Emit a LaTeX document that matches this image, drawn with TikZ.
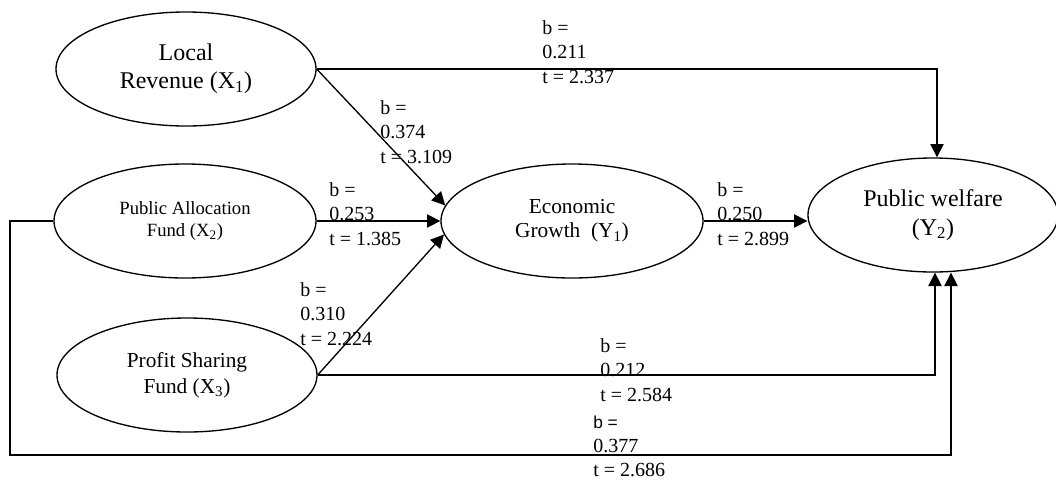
\documentclass[tikz,border=0pt]{standalone}
\usepackage{fontspec}
\setmainfont{Liberation Serif}
\newfontfamily\lblsans{Liberation Sans}
\usetikzlibrary{shapes.geometric,arrows.meta}
\tikzset{
  latent/.style={draw, ellipse, line width=1pt, inner sep=0pt, align=center},
  arr/.style={line width=1pt, -{Triangle[length=10pt,width=10pt]}},
  coef/.style={anchor=north west, inner sep=0pt, align=left, font=\fontsize{15}{18.4}\selectfont}
}
\begin{document}
\begin{tikzpicture}[x=0.75pt,y=-0.75pt]
\useasboundingbox (0,0) rectangle (1056,479);
% constructs
\node[latent, minimum width=260*0.75pt, minimum height=114*0.75pt, font=\fontsize{18}{21}\selectfont] (X1) at (186,69) {Local\\Revenue (X\textsubscript{1})};
\node[latent, minimum width=262*0.75pt, minimum height=114*0.75pt, font=\fontsize{14}{17}\selectfont] (X2) at (185,221) {Public Allocation\\Fund (X\textsubscript{2})};
\node[latent, minimum width=260*0.75pt, minimum height=114*0.75pt, font=\fontsize{16}{19.5}\selectfont] (X3) at (187,375) {Profit Sharing\\Fund (X\textsubscript{3})};
\node[latent, minimum width=262*0.75pt, minimum height=114*0.75pt, font=\fontsize{16}{18}\selectfont] (Y1) at (572,221) {Economic\\Growth~ (Y\textsubscript{1})};
\node[latent, minimum width=250*0.75pt, minimum height=114*0.75pt, font=\fontsize{18}{21.5}\selectfont] (Y2) at (933,215) {Public welfare\\(Y\textsubscript{2})};
% bend points
\coordinate (c1) at (937,69);
\coordinate (c3) at (935,375);
\coordinate (l1) at (10,221);
\coordinate (l2) at (10,455);
\coordinate (l3) at (951,455);
% connectors
\draw[arr] (X1.east) -- (c1) -- (c1 |- Y2.north);
\draw[arr] (X1.east) -- (Y1.173);
\draw[arr] (X2.east) -- (Y1.west);
\draw[arr] (X3.east) -- (Y1.186);
\draw[arr] (Y1.east) -- (Y1.east -| Y2.west);
\draw[arr] (X3.east) -- (c3) -- (c3 |- Y2.south);
\draw[arr] (X2.west) -- (l1) -- (l2) -- (l3) -- (l3 |- Y2.south);
% coefficients
\node[coef] (k1) at (542,20) {b =\\0.211\\t = 2.337};
\node[coef] (k2) at (380,100) {b =\\0.374\\t = 3.109};
\node[coef] (k3) at (329,182) {b =\\0.253\\t = 1.385};
\node[coef] (k4) at (717,182) {b =\\0.250\\t = 2.899};
\node[coef] (k5) at (300,282) {b =\\0.310\\t = 2.224};
\node[coef] (k6) at (600,338) {b =\\0.212\\t = 2.584};
\node[coef, font=\fontsize{15}{17.8}\selectfont] (k7) at (593,416) {{\lblsans\fontsize{13}{17.8}\selectfont b =}\\0.377\\t = 2.686};
\end{tikzpicture}
\end{document}
